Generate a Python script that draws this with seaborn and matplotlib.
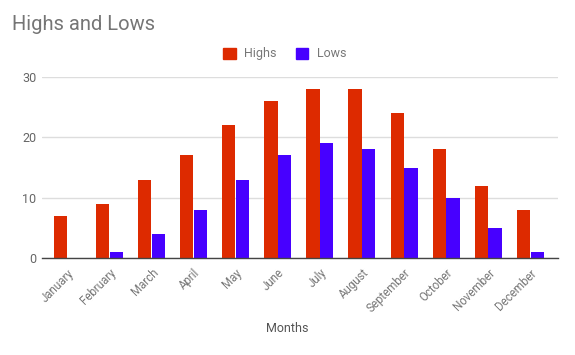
import matplotlib
matplotlib.use("Agg")
import matplotlib.pyplot as plt
import seaborn as sns
import pandas as pd
from matplotlib.patches import Patch

months = ["January", "February", "March", "April", "May", "June", "July",
          "August", "September", "October", "November", "December"]
highs = [7, 9, 13, 17, 22, 26, 28, 28, 24, 18, 12, 8]
lows = [0, 1, 4, 8, 13, 17, 19, 18, 15, 10, 5, 1]
series_names = ["Highs", "Lows"]
colors = ["#DD2A00", "#4700FF"]
y_ticks = [0, 10, 20, 30]

df = pd.DataFrame({
    "Month": months * 2,
    "Value": highs + lows,
    "Series": [series_names[0]] * len(months) + [series_names[1]] * len(months),
})

sns.set_style("white")
plt.rcParams["font.family"] = ["Roboto", "DejaVu Sans"]

fig = plt.figure(figsize=(5.75, 3.55), dpi=100)
ax = fig.add_axes([0.073, 0.273, 0.897, 0.51])

sns.barplot(data=df, x="Month", y="Value", hue="Series", palette=colors,
            width=0.65, gap=0.03, saturation=1, linewidth=0, ax=ax, legend=False)

ax.set_ylim(0, 30)
ax.set_xlim(-0.6, 11.65)
ax.set_yticks(y_ticks)
ax.set_yticklabels([str(t) for t in y_ticks], color="#666666", fontsize=9)
ax.grid(axis="y", color="#dddddd", linewidth=1)
ax.set_axisbelow(True)
for s in ["top", "right", "left"]:
    ax.spines[s].set_visible(False)
ax.spines["bottom"].set_color("#444444")
ax.spines["bottom"].set_linewidth(1)
ax.tick_params(axis="y", length=0, pad=4)
ax.tick_params(axis="x", length=0, pad=6)
ax.set_xticks(range(len(months)))
ax.set_xticklabels(months, rotation=45, ha="right", rotation_mode="anchor",
                   color="#777777", fontsize=8.3)
ax.set_ylabel("")
ax.set_xlabel("")
fig.text(0.5, 0.076, "Months", color="#555555", fontsize=9, ha="center", va="center")

fig.text(0.021, 0.93, "Highs and Lows", fontsize=14.5, color="#757575",
         ha="left", va="center")

handles = [Patch(facecolor=c, edgecolor=c) for c in colors]
fig.legend(handles, series_names, loc="center", bbox_to_anchor=(0.495, 0.848),
           ncol=2, frameon=False, fontsize=9, labelcolor="#777777",
           handlelength=1.0, handleheight=1.0, columnspacing=1.5, handletextpad=0.7)

fig.savefig("out.png", dpi=100)
